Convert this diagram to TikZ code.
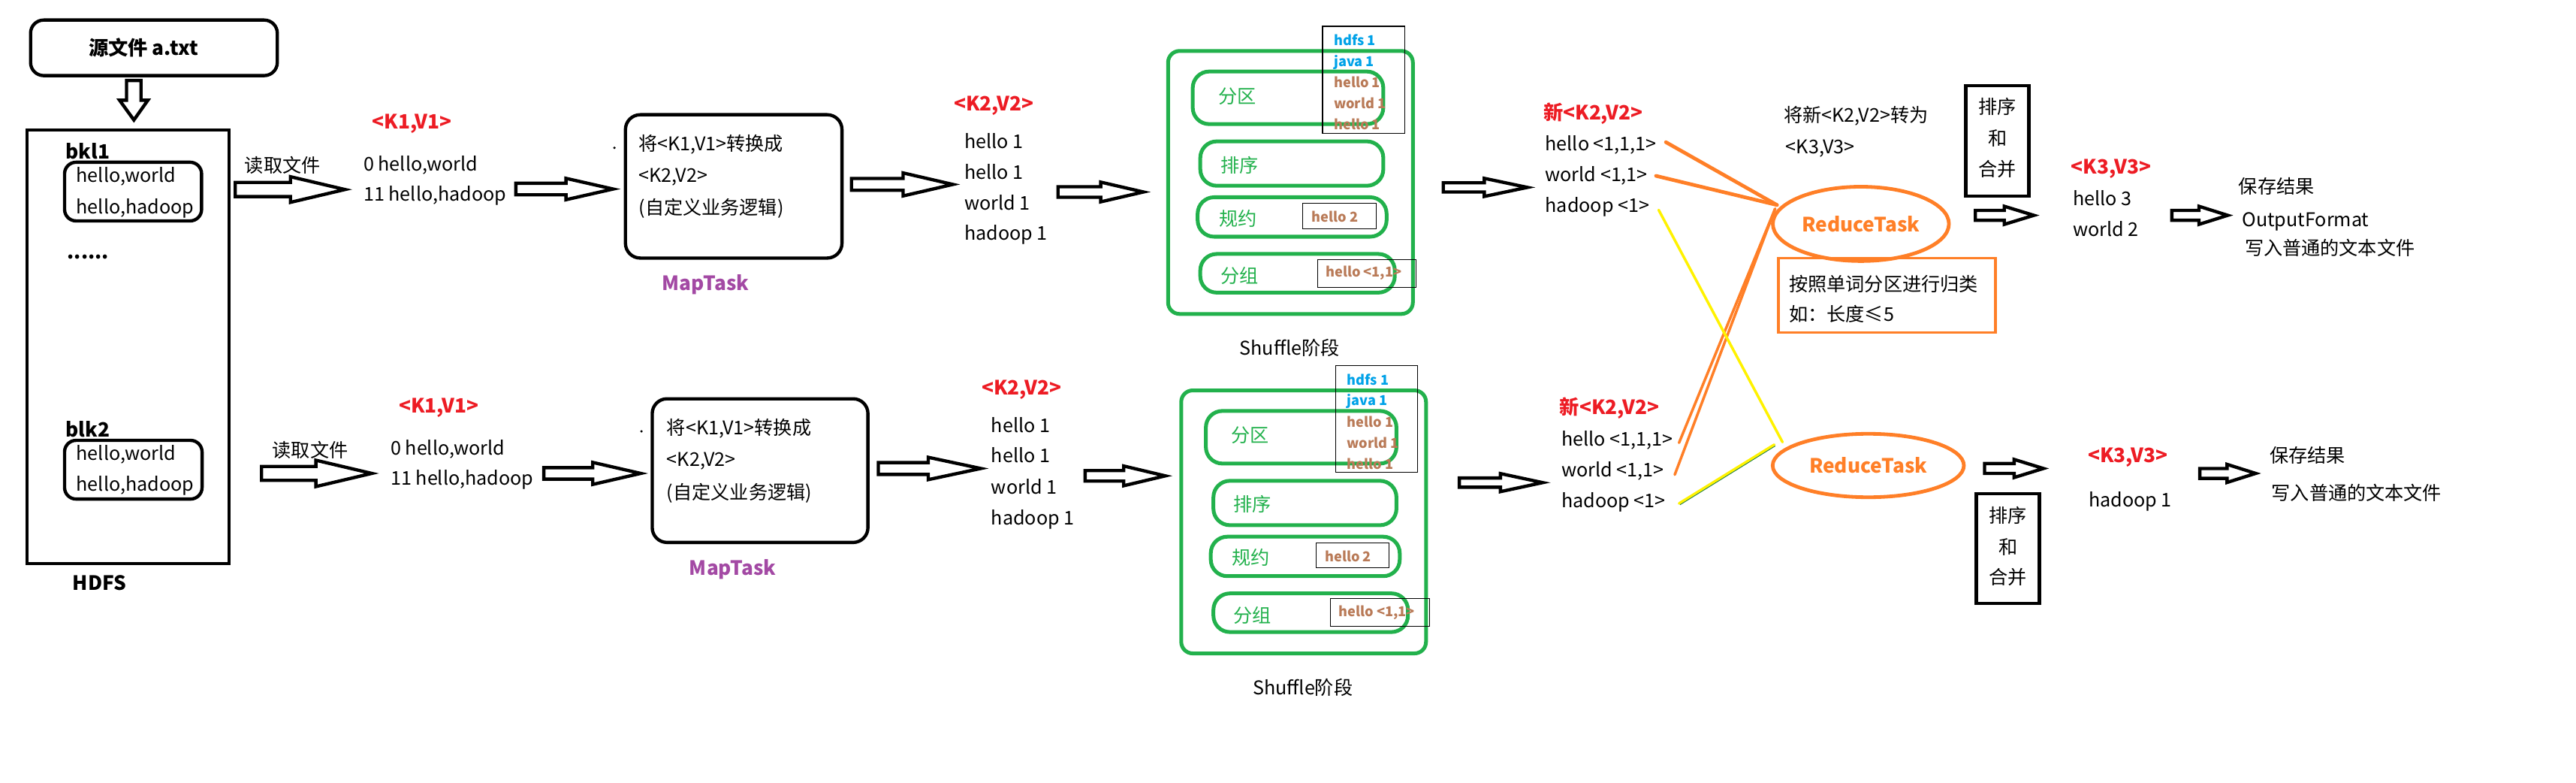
\documentclass[tikz,border=0pt]{standalone}
\usepackage{fontspec}
\setmainfont{Noto Sans CJK SC}
\usetikzlibrary{shapes.geometric,fit}
\definecolor{pred}{HTML}{ED1C24}
\definecolor{ppurple}{HTML}{A349A4}
\definecolor{pgreen}{HTML}{22B14C}
\definecolor{porange}{HTML}{FF7F27}
\definecolor{pyellow}{HTML}{FFF200}
\definecolor{pblue}{HTML}{00A2E8}
\definecolor{pbrown}{HTML}{B97A57}
% hollow block arrow: x1, xtip, ycenter, xhead, shaft half, head half
\newcommand{\hollowarrow}[6]{%
  \draw[harrowline] (#1,#3-#5) -- (#4,#3-#5) -- (#4,#3-#6) -- (#2,#3) -- (#4,#3+#6) -- (#4,#3+#5) -- (#1,#3+#5) -- cycle;}
\newcommand{\shuffleblock}[3]{%
  \node[gbox, rounded corners=7pt, fit={(711+#2,31+#3) (860+#2,191+#3)}] (#1out) {};
  \node[gbox, fit={(726+#2,43.5+#3) (842+#2,75.5+#3)}] (#1fq) {};
  \node[gbox, fit={(730.6+#2,86+#3) (842+#2,113+#3)}] (#1px) {};
  \node[gbox, fit={(729+#2,120+#3) (844+#2,144+#3)}] (#1gy) {};
  \node[gbox, fit={(730.6+#2,154.5+#3) (849+#2,178+#3)}] (#1fz) {};
  \node[gt] (#1fqt) at (741.5+#2,58.5+#3) {分区};
  \node[gt] (#1pxt) at (743+#2,100.6+#3) {排序};
  \node[gt] (#1gyt) at (742+#2,133+#3) {规约};
  \node[gt] (#1fzt) at (743+#2,168+#3) {分组};
  \node[thinbox, fit={(805+#2,16+#3) (855+#2,81+#3)}] (#1lst) {};
  \node[sm, text=pblue] (#1s1) at (812+#2,24.7+#3) {hdfs 1};
  \node[sm, text=pblue] (#1s2) at (812+#2,37.3+#3) {java 1};
  \node[sm, text=pbrown] (#1s3) at (812+#2,50.3+#3) {hello 1};
  \node[sm, text=pbrown] (#1s4) at (812+#2,63+#3) {world 1};
  \node[sm, text=pbrown] (#1s5) at (812+#2,76+#3) {hello 1};
  \node[thinbox, fit={(793+#2,123.7+#3) (837.6+#2,139+#3)}] (#1hb2) {};
  \node[sm, text=pbrown] (#1h2) at (798.5+#2,132+#3) {hello 2};
  \node[thinbox, fit={(802+#2,157.8+#3) (862+#2,174.7+#3)}] (#1hb3) {};
  \node[sm, text=pbrown] (#1h3) at (807+#2,165.5+#3) {hello <1,1>};
  \node[txc] (#1lab) at (785+#2,212+#3) {Shuffle阶段};
}
\begin{document}
\begin{tikzpicture}[x=1pt,y=-1pt,
  every node/.style={inner sep=0pt, outer sep=0pt},
  tx/.style={anchor=base west, yshift=-4.2pt, font=\fontsize{11.5}{13}\selectfont},
  txc/.style={anchor=base, yshift=-4.2pt, font=\fontsize{11.5}{13}\selectfont},
  bt/.style={anchor=base west, yshift=-4.4pt, font=\fontsize{12}{14}\selectfont\bfseries},
  btc/.style={bt, anchor=base},
  kv/.style={bt, text=pred},
  gt/.style={tx, text=pgreen, font=\fontsize{11.5}{13}\selectfont},
  sm/.style={anchor=base west, yshift=-3pt, font=\fontsize{8.3}{9}\selectfont\bfseries},
  harrowline/.style={draw=black, line width=2pt, fill=white, line join=miter},
  blkbox/.style={draw=black, line width=2pt},
  rbox/.style={draw=black, line width=2pt, rounded corners=8pt},
  gbox/.style={draw=pgreen, line width=2.3pt, rounded corners=10pt},
  thinbox/.style={draw=black, line width=0.5pt},
  obox/.style={draw=porange, line width=1.6pt},
  rell/.style={ellipse, draw=porange, line width=2.2pt, text=porange, font=\fontsize{12}{14}\selectfont\bfseries},
  oline/.style={draw=porange, line width=1.6pt, line cap=round},
  yline/.style={draw=pyellow, line width=1.6pt, line cap=round}
]
\useasboundingbox (0,0) rectangle (1568,476);
\fill[white] (0,0) rectangle (1568,476);

% ---------- source and HDFS ----------
\node[rbox, fit={(18.6,12.2) (168.8,46)}] (src) {};
\node[bt] (srct) at (54,29.3) {源文件 a.txt};
\draw[harrowline] (77,49) -- (85.8,49) -- (85.8,61) -- (90,61) -- (81.5,73) -- (72.8,61) -- (77,61) -- cycle;
\node[blkbox, fit={(16.5,79) (139.4,342.9)}] (hdfs) {};
\node[bt] (bkl1) at (40,92.2) {bkl1};
\node[rbox, rounded corners=7pt, fit={(39.3,98.7) (122.7,134.4)}] (blk1box) {};
\node[tx] (b1l1) at (46.5,106.7) {hello,world};
\node[tx] (b1l2) at (46.5,125.7) {hello,hadoop};
\node[anchor=base west, font=\fontsize{12}{14}\selectfont\bfseries] (dots) at (41,157.5) {......};
\node[bt] (blk2) at (40,261.4) {blk2};
\node[rbox, rounded corners=7pt, fit={(39.3,267.9) (123,303.6)}] (blk2box) {};
\node[tx] (b2l1) at (46.5,275.9) {hello,world};
\node[tx] (b2l2) at (46.5,294.4) {hello,hadoop};
\node[btc] (hdfsl) at (60.5,354.8) {HDFS};

% ---------- read file ----------
\node[tx] (rd1) at (149,100.9) {读取文件};
\hollowarrow{143.2}{210}{115.3}{176.8}{4.3}{7.8}
\node[tx] (rd2) at (165.8,274) {读取文件};
\hollowarrow{159.2}{226.3}{288}{192.3}{4.25}{8}

% ---------- K1,V1 ----------
\node[kv] (kv1a) at (226.5,73.9) {<K1,V1>};
\node[tx] (kv1a1) at (221.3,99.8) {0 hello,world};
\node[tx] (kv1a2) at (221.3,118) {11 hello,hadoop};
\node[kv] (kv1b) at (242.8,246.6) {<K1,V1>};
\node[tx] (kv1b1) at (237.8,272.8) {0 hello,world};
\node[tx] (kv1b2) at (237.8,291) {11 hello,hadoop};
\hollowarrow{314}{373.2}{115}{344.5}{3.5}{6.5}
\hollowarrow{331}{390}{288}{360.8}{3.5}{6.7}

% ---------- MapTask ----------
\fill (374,89.9) circle (0.8pt);
\fill (390.4,262.4) circle (0.8pt);
\node[rbox, rounded corners=9pt, fit={(380.7,69.8) (512.5,157)}] (map1) {};
\node[tx] (m1a) at (388.8,87.6) {将<K1,V1>转换成};
\node[tx] (m1b) at (388.8,106.7) {<K2,V2>};
\node[tx] (m1c) at (388.8,126.5) {(自定义业务逻辑)};
\node[btc, text=ppurple] (map1l) at (429.5,172.5) {MapTask};
\node[rbox, rounded corners=9pt, fit={(397,242.6) (528.3,330)}] (map2) {};
\node[tx] (m2a) at (405.9,260.3) {将<K1,V1>转换成};
\node[tx] (m2b) at (405.9,279.6) {<K2,V2>};
\node[tx] (m2c) at (405.9,299.4) {(自定义业务逻辑)};
\node[btc, text=ppurple] (map2l) at (446,345.6) {MapTask};
\hollowarrow{518.3}{580}{112.2}{549.7}{3.6}{7}
\hollowarrow{534.6}{597}{285}{565}{3.6}{6.8}

% ---------- K2,V2 ----------
\node[kv] (kv2a) at (580.6,63.2) {<K2,V2>};
\node[tx] (kv2a1) at (587,86.1) {hello 1};
\node[tx] (kv2a2) at (587,104.8) {hello 1};
\node[tx] (kv2a3) at (587,123.4) {world 1};
\node[tx] (kv2a4) at (587,142) {hadoop 1};
\node[kv] (kv2b) at (597.5,235.9) {<K2,V2>};
\node[tx] (kv2b1) at (603.4,259) {hello 1};
\node[tx] (kv2b2) at (603.4,277.3) {hello 1};
\node[tx] (kv2b3) at (603.4,296.4) {world 1};
\node[tx] (kv2b4) at (603.4,315.1) {hadoop 1};
\hollowarrow{644}{696}{116.8}{670}{3.2}{6}
\hollowarrow{660.5}{709.3}{289.5}{684}{3.2}{6}

% ---------- Shuffle ----------
\shuffleblock{sa}{0}{0}
\shuffleblock{sb}{8}{206.5}
\hollowarrow{878.5}{929.7}{114}{903.5}{2.8}{5.5}
\hollowarrow{888.3}{939}{293.6}{913.3}{2.8}{5.5}

% ---------- new K2,V2 ----------
\node[kv] (nka) at (939.5,68.3) {新<K2,V2>};
\node[tx] (nka1) at (940.6,87.6) {hello <1,1,1>};
\node[tx] (nka2) at (940.6,106.4) {world <1,1>};
\node[tx] (nka3) at (940.6,125) {hadoop <1>};
\node[kv] (nkb) at (949.4,247.6) {新<K2,V2>};
\node[tx] (nkb1) at (950.4,267) {hello <1,1,1>};
\node[tx] (nkb2) at (950.4,286) {world <1,1>};
\node[tx] (nkb3) at (950.4,304.8) {hadoop <1>};

% ---------- Reduce ----------
\node[tx] (cv1) at (1085.7,70.1) {将新<K2,V2>转为};
\node[tx] (cv2) at (1087,89.1) {<K3,V3>};
\node[rell, minimum width=107.2pt, minimum height=45.2pt] (r1) at (1132.7,136.2) {ReduceTask};
\node[rell, minimum width=116.4pt, minimum height=38.6pt] (r2) at (1137.2,283.2) {ReduceTask};
\node[obox, fit={(1082.4,157) (1214.6,202.2)}] (note) {};
\node[tx] (note1) at (1089,173) {按照单词分区进行归类};
\node[tx] (note2) at (1089,191.2) {如：长度≤5};

\coordinate (ha) at (1014,86.5);
\coordinate (wa) at (1008,107);
\coordinate (da) at (1009.6,127.7);
\coordinate (hb) at (1022,269.4);
\coordinate (wb) at (1019.4,288.8);
\coordinate (db) at (1022,306.3);
\coordinate (m1) at (1081.6,124.7);
\coordinate (m1b) at (1080.5,127);
\coordinate (m2) at (1085,269);
\coordinate (m2b) at (1080,270.5);
\draw[oline, line width=2.2pt] (ha) -- (m1);
\draw[oline, line width=2.2pt] (wa) -- (m1);
\draw[oline] (m1b) -- (hb);
\draw[oline] (m1b) -- (wb);
\draw[yline] (da) -- (m2);
\draw[yline] (db) -- (m2b);
\draw[pgreen!70!black, line width=0.4pt] ([shift={(0.6,0.8)}]db) -- ([shift={(0.6,0.8)}]m2b);

% ---------- sort & merge ----------
\node[blkbox, fit={(1196.6,52) (1235,119.2)}] (sm1) {};
\node[txc] (sm1a) at (1215.8,65.2) {排序};
\node[txc] (sm1b) at (1215.8,84.1) {和};
\node[txc] (sm1c) at (1215.8,102.9) {合并};
\node[blkbox, fit={(1203,300.2) (1241.3,367.2)}] (sm2) {};
\node[txc] (sm2a) at (1222.2,313.9) {排序};
\node[txc] (sm2b) at (1222.2,333) {和};
\node[txc] (sm2c) at (1222.2,351.2) {合并};
\hollowarrow{1202.4}{1238}{131}{1220}{3}{5.5}
\hollowarrow{1208}{1243.8}{285}{1226}{3}{5.5}

% ---------- K3,V3 ----------
\node[kv] (k3a) at (1260.7,101.3) {<K3,V3>};
\node[tx] (k3a1) at (1261.7,120.7) {hello 3};
\node[tx] (k3a2) at (1261.7,139.4) {world 2};
\node[kv] (k3b) at (1270.9,277) {<K3,V3>};
\node[tx] (k3b1) at (1271.3,304.3) {hadoop 1};
\hollowarrow{1322}{1356}{131}{1338.5}{3}{5.5}
\hollowarrow{1339}{1373}{288}{1355.6}{3}{5.5}

% ---------- save ----------
\node[tx] (sv1) at (1362.7,113.5) {保存结果};
\node[tx] (sv2) at (1364.8,133.8) {OutputFormat};
\node[tx] (sv3) at (1366.4,151.2) {写入普通的文本文件};
\node[tx] (sv4) at (1381.7,277) {保存结果};
\node[tx] (sv5) at (1382.7,299.9) {写入普通的文本文件};
\end{tikzpicture}
\end{document}
